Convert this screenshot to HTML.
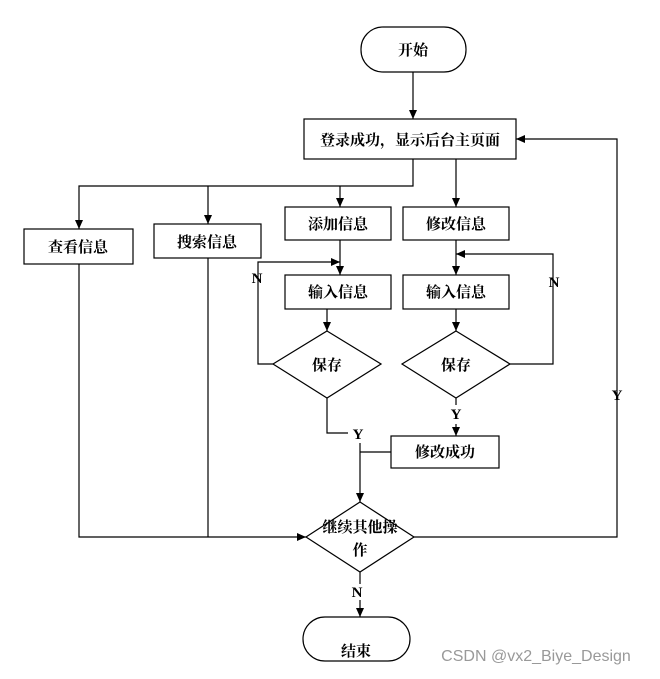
<!DOCTYPE html>
<html><head><meta charset="utf-8"><style>
body{margin:0;background:#fff;}
svg text{font-family:"Liberation Serif","Noto Serif CJK SC",serif;font-weight:bold;font-size:15px;fill:#000;}
</style></head><body>
<svg width="660" height="674" viewBox="0 0 660 674" xmlns="http://www.w3.org/2000/svg">
<defs><marker id="a" markerWidth="10" markerHeight="10" refX="9" refY="5" orient="auto" markerUnits="userSpaceOnUse"><path d="M0,1 L9,5 L0,9 z" fill="#000"/></marker></defs>
<g fill="none" stroke="#000" stroke-width="1.2">
<rect x="361" y="27" width="105" height="45" rx="22"/>
<rect x="304" y="119" width="212" height="40"/>
<rect x="24" y="229" width="109" height="35"/>
<rect x="154" y="224" width="107" height="34"/>
<rect x="285" y="207" width="106" height="33"/>
<rect x="403" y="207" width="106" height="33"/>
<rect x="285" y="275" width="106" height="34"/>
<rect x="403" y="275" width="106" height="34"/>
<path d="M327,331 L381,364 L327,398 L273,364 Z"/>
<path d="M456,331 L510,364 L456,398 L402,364 Z"/>
<rect x="391" y="436" width="108" height="32"/>
<path d="M360,502 L414,537 L360,572 L306,537 Z"/>
<rect x="303" y="617" width="107" height="44" rx="22"/>
<line x1="413" y1="72" x2="413" y2="119" marker-end="url(#a)"/>
<polyline points="413,159 413,186 79,186 79,229" marker-end="url(#a)"/>
<line x1="208" y1="186" x2="208" y2="224" marker-end="url(#a)"/>
<line x1="340" y1="186" x2="340" y2="207" marker-end="url(#a)"/>
<line x1="456" y1="159" x2="456" y2="207" marker-end="url(#a)"/>
<line x1="340" y1="240" x2="340" y2="275" marker-end="url(#a)"/>
<line x1="456" y1="240" x2="456" y2="275" marker-end="url(#a)"/>
<line x1="327" y1="309" x2="327" y2="331" marker-end="url(#a)"/>
<line x1="456" y1="309" x2="456" y2="331" marker-end="url(#a)"/>
<polyline points="273,364 258,364 258,262 340,262" marker-end="url(#a)"/>
<polyline points="510,364 553,364 553,254 456,254" marker-end="url(#a)"/>
<polyline points="327,398 327,433 348,433"/>
<line x1="456" y1="398" x2="456" y2="405"/>
<line x1="456" y1="424" x2="456" y2="436" marker-end="url(#a)"/>
<line x1="391" y1="452" x2="360" y2="452"/>
<line x1="360" y1="443" x2="360" y2="502" marker-end="url(#a)"/>
<polyline points="79,264 79,537 306,537" marker-end="url(#a)"/>
<line x1="208" y1="258" x2="208" y2="537"/>
<polyline points="414,537 617,537 617,139 516,139" marker-end="url(#a)"/>
<line x1="360" y1="572" x2="360" y2="584"/>
<line x1="360" y1="600" x2="360" y2="617" marker-end="url(#a)"/>
</g>
<text x="413" y="55" text-anchor="middle">开始</text>
<text x="410" y="145" text-anchor="middle">登录成功，显示后台主页面</text>
<text x="78" y="252" text-anchor="middle">查看信息</text>
<text x="207" y="247" text-anchor="middle">搜索信息</text>
<text x="338" y="229" text-anchor="middle">添加信息</text>
<text x="456" y="229" text-anchor="middle">修改信息</text>
<text x="338" y="297" text-anchor="middle">输入信息</text>
<text x="456" y="297" text-anchor="middle">输入信息</text>
<text x="327" y="370" text-anchor="middle">保存</text>
<text x="456" y="370" text-anchor="middle">保存</text>
<text x="445" y="457" text-anchor="middle">修改成功</text>
<text x="360" y="532" text-anchor="middle">继续其他操</text>
<text x="360" y="555" text-anchor="middle">作</text>
<text x="356" y="656" text-anchor="middle">结束</text>
<text x="257" y="283" text-anchor="middle">N</text>
<text x="554" y="287" text-anchor="middle">N</text>
<text x="358" y="439" text-anchor="middle">Y</text>
<text x="456" y="419" text-anchor="middle">Y</text>
<text x="617" y="400" text-anchor="middle">Y</text>
<text x="357" y="597" text-anchor="middle">N</text>
<text x="536" y="661" text-anchor="middle" style="font-family:'Liberation Sans',sans-serif;font-weight:normal;font-size:16px;fill:#999">CSDN @vx2_Biye_Design</text>
</svg>
</body></html>
